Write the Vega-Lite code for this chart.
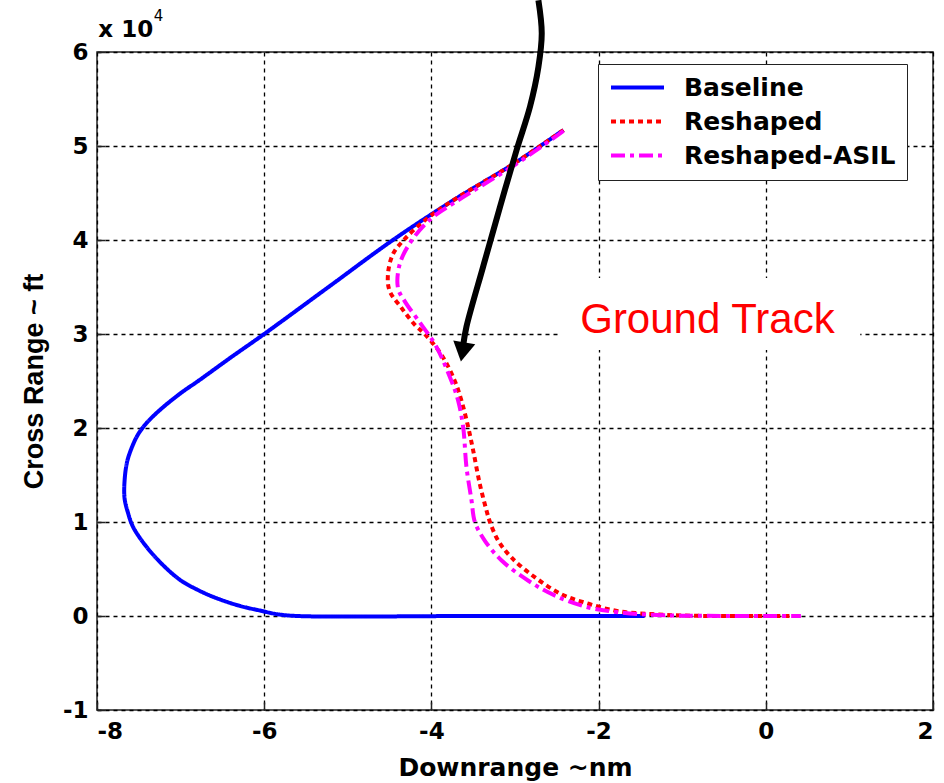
{
  "$schema": "https://vega.github.io/schema/vega-lite/v6.json",
  "autosize": {"type": "none"},
  "width": 836,
  "height": 658,
  "padding": {"left": 97, "top": 52, "right": 11, "bottom": 73},
  "background": "white",
  "config": {
    "view": {"stroke": "#222", "strokeWidth": 1.5},
    "axis": {
      "grid": true,
      "gridColor": "#000",
      "gridDash": [4, 4],
      "gridWidth": 1.3,
      "gridOpacity": 1,
      "domain": false,
      "ticks": true,
      "tickColor": "#222",
      "tickSize": -8,
      "tickWidth": 1.5,
      "labelFont": "DejaVu Sans",
      "labelFontWeight": "bold",
      "labelFontSize": 23,
      "labelColor": "#000",
      "titleFont": "DejaVu Sans",
      "titleFontWeight": "bold",
      "titleFontSize": 25,
      "titleColor": "#000"
    },
    "legend": {
      "orient": "none",
      "legendX": 501,
      "legendY": 12,
      "strokeColor": "#222",
      "fillColor": "white",
      "padding": 11,
      "labelFont": "DejaVu Sans",
      "labelFontWeight": "bold",
      "labelFontSize": 25,
      "labelColor": "#000",
      "labelOffset": 18,
      "labelLimit": 400,
      "symbolType": "stroke",
      "symbolStrokeWidth": 4,
      "symbolSize": 2809,
      "clipHeight": 25,
      "rowPadding": 8,
      "title": null
    }
  },
  "datasets": {
    "tracks": [
      {"s": "Baseline", "i": 1, "x": -2.42, "y": 51700},
      {"s": "Baseline", "i": 2, "x": -3.0, "y": 48200},
      {"s": "Baseline", "i": 3, "x": -3.76, "y": 44100},
      {"s": "Baseline", "i": 4, "x": -4.46, "y": 40000},
      {"s": "Baseline", "i": 5, "x": -5.2, "y": 35200},
      {"s": "Baseline", "i": 6, "x": -6.0, "y": 30000},
      {"s": "Baseline", "i": 7, "x": -6.4, "y": 27500},
      {"s": "Baseline", "i": 8, "x": -6.79, "y": 25000},
      {"s": "Baseline", "i": 9, "x": -7.0, "y": 23700},
      {"s": "Baseline", "i": 10, "x": -7.25, "y": 21900},
      {"s": "Baseline", "i": 11, "x": -7.41, "y": 20500},
      {"s": "Baseline", "i": 12, "x": -7.51, "y": 19300},
      {"s": "Baseline", "i": 13, "x": -7.58, "y": 18000},
      {"s": "Baseline", "i": 14, "x": -7.64, "y": 16400},
      {"s": "Baseline", "i": 15, "x": -7.67, "y": 14400},
      {"s": "Baseline", "i": 16, "x": -7.67, "y": 12500},
      {"s": "Baseline", "i": 17, "x": -7.63, "y": 11000},
      {"s": "Baseline", "i": 18, "x": -7.57, "y": 9500},
      {"s": "Baseline", "i": 19, "x": -7.42, "y": 7500},
      {"s": "Baseline", "i": 20, "x": -7.22, "y": 5500},
      {"s": "Baseline", "i": 21, "x": -7.0, "y": 3800},
      {"s": "Baseline", "i": 22, "x": -6.8, "y": 2800},
      {"s": "Baseline", "i": 23, "x": -6.6, "y": 2000},
      {"s": "Baseline", "i": 24, "x": -6.3, "y": 1100},
      {"s": "Baseline", "i": 25, "x": -6.04, "y": 560},
      {"s": "Baseline", "i": 26, "x": -5.85, "y": 200},
      {"s": "Baseline", "i": 27, "x": -5.6, "y": 0},
      {"s": "Baseline", "i": 28, "x": -3.5, "y": 0},
      {"s": "Baseline", "i": 29, "x": -1.45, "y": 0},

      {"s": "Reshaped", "i": 1, "x": -2.42, "y": 51700},
      {"s": "Reshaped", "i": 2, "x": -3.0, "y": 48200},
      {"s": "Reshaped", "i": 3, "x": -3.76, "y": 44100},
      {"s": "Reshaped", "i": 4, "x": -4.05, "y": 42300},
      {"s": "Reshaped", "i": 5, "x": -4.32, "y": 40100},
      {"s": "Reshaped", "i": 6, "x": -4.46, "y": 38500},
      {"s": "Reshaped", "i": 7, "x": -4.52, "y": 36300},
      {"s": "Reshaped", "i": 8, "x": -4.5, "y": 34600},
      {"s": "Reshaped", "i": 9, "x": -4.36, "y": 32800},
      {"s": "Reshaped", "i": 10, "x": -4.2, "y": 31000},
      {"s": "Reshaped", "i": 11, "x": -4.08, "y": 30000},
      {"s": "Reshaped", "i": 12, "x": -3.88, "y": 27800},
      {"s": "Reshaped", "i": 13, "x": -3.72, "y": 25000},
      {"s": "Reshaped", "i": 14, "x": -3.64, "y": 22900},
      {"s": "Reshaped", "i": 15, "x": -3.56, "y": 20100},
      {"s": "Reshaped", "i": 16, "x": -3.5, "y": 17600},
      {"s": "Reshaped", "i": 17, "x": -3.42, "y": 14000},
      {"s": "Reshaped", "i": 18, "x": -3.34, "y": 11200},
      {"s": "Reshaped", "i": 19, "x": -3.3, "y": 10000},
      {"s": "Reshaped", "i": 20, "x": -3.2, "y": 8000},
      {"s": "Reshaped", "i": 21, "x": -3.04, "y": 6200},
      {"s": "Reshaped", "i": 22, "x": -2.76, "y": 4100},
      {"s": "Reshaped", "i": 23, "x": -2.44, "y": 2300},
      {"s": "Reshaped", "i": 24, "x": -2.12, "y": 1300},
      {"s": "Reshaped", "i": 25, "x": -1.76, "y": 500},
      {"s": "Reshaped", "i": 26, "x": -1.36, "y": 200},
      {"s": "Reshaped", "i": 27, "x": -1.0, "y": 50},
      {"s": "Reshaped", "i": 28, "x": -0.5, "y": 0},
      {"s": "Reshaped", "i": 29, "x": 0.42, "y": 0},

      {"s": "Reshaped-ASIL", "i": 1, "x": -2.42, "y": 51600},
      {"s": "Reshaped-ASIL", "i": 2, "x": -3.0, "y": 48000},
      {"s": "Reshaped-ASIL", "i": 3, "x": -3.72, "y": 44000},
      {"s": "Reshaped-ASIL", "i": 4, "x": -4.0, "y": 42300},
      {"s": "Reshaped-ASIL", "i": 5, "x": -4.24, "y": 39900},
      {"s": "Reshaped-ASIL", "i": 6, "x": -4.38, "y": 37400},
      {"s": "Reshaped-ASIL", "i": 7, "x": -4.4, "y": 34900},
      {"s": "Reshaped-ASIL", "i": 8, "x": -4.32, "y": 33500},
      {"s": "Reshaped-ASIL", "i": 9, "x": -4.12, "y": 31000},
      {"s": "Reshaped-ASIL", "i": 10, "x": -3.95, "y": 28800},
      {"s": "Reshaped-ASIL", "i": 11, "x": -3.76, "y": 25000},
      {"s": "Reshaped-ASIL", "i": 12, "x": -3.68, "y": 22900},
      {"s": "Reshaped-ASIL", "i": 13, "x": -3.62, "y": 20100},
      {"s": "Reshaped-ASIL", "i": 14, "x": -3.58, "y": 15800},
      {"s": "Reshaped-ASIL", "i": 15, "x": -3.52, "y": 12300},
      {"s": "Reshaped-ASIL", "i": 16, "x": -3.48, "y": 10000},
      {"s": "Reshaped-ASIL", "i": 17, "x": -3.36, "y": 8000},
      {"s": "Reshaped-ASIL", "i": 18, "x": -3.16, "y": 5900},
      {"s": "Reshaped-ASIL", "i": 19, "x": -2.84, "y": 3750},
      {"s": "Reshaped-ASIL", "i": 20, "x": -2.52, "y": 2160},
      {"s": "Reshaped-ASIL", "i": 21, "x": -2.12, "y": 900},
      {"s": "Reshaped-ASIL", "i": 22, "x": -1.76, "y": 400},
      {"s": "Reshaped-ASIL", "i": 23, "x": -1.3, "y": 100},
      {"s": "Reshaped-ASIL", "i": 24, "x": -0.8, "y": 20},
      {"s": "Reshaped-ASIL", "i": 25, "x": 0.42, "y": 0}
    ],
    "arrow": [
      {"i": 1, "x": -2.72, "y": 65500},
      {"i": 2, "x": -2.68, "y": 62000},
      {"i": 3, "x": -2.72, "y": 58400},
      {"i": 4, "x": -2.82, "y": 54200},
      {"i": 5, "x": -2.98, "y": 49600},
      {"i": 6, "x": -3.18, "y": 43500},
      {"i": 7, "x": -3.38, "y": 37200},
      {"i": 8, "x": -3.58, "y": 30800},
      {"i": 9, "x": -3.62, "y": 28800}
    ],
    "head": [{"x": -3.627, "y": 28100}],
    "box": [{"x": -2.46, "xe": 1.13, "y": 35960, "ye": 28300}],
    "label": [{"x": -2.22, "y": 30110, "t": "Ground Track"}],
    "exp": [
      {"x": -7.984, "y": 61560, "t": "x 10"}
    ],
    "exp4": [
      {"x": -7.32, "y": 63300, "t": "4"}
    ]
  },
  "layer": [
    {
      "data": {"name": "tracks"},
      "mark": {"type": "line", "strokeWidth": 4, "strokeCap": "butt", "interpolate": "catmull-rom"},
      "encoding": {
        "x": {
          "field": "x", "type": "quantitative",
          "scale": {"domain": [-8, 2], "nice": false, "zero": false},
          "axis": {"title": "Downrange ~nm", "values": [-8, -6, -4, -2, 0, 2], "labelExpr": "toString(datum.value)", "labelPadding": 18, "titlePadding": 12}
        },
        "y": {
          "field": "y", "type": "quantitative",
          "scale": {"domain": [-10000, 60000], "nice": false, "zero": false},
          "axis": {"title": "Cross Range ~ ft", "titleFont": "Liberation Sans", "titleFontSize": 27, "values": [-10000, 0, 10000, 20000, 30000, 40000, 50000, 60000], "labelExpr": "toString(datum.value / 10000)", "labelPadding": 17, "titlePadding": 14}
        },
        "color": {
          "field": "s", "type": "nominal",
          "scale": {"domain": ["Baseline", "Reshaped", "Reshaped-ASIL"], "range": ["#0000ff", "#ff0000", "#ff00ff"]}
        },
        "strokeDash": {
          "field": "s", "type": "nominal",
          "scale": {"domain": ["Baseline", "Reshaped", "Reshaped-ASIL"], "range": [[1, 0], [5, 4], [14, 5, 4, 5]]}
        },
        "order": {"field": "i", "type": "quantitative"}
      }
    },
    {
      "data": {"name": "box"},
      "mark": {"type": "rect", "fill": "white", "stroke": null},
      "encoding": {
        "x": {"field": "x", "type": "quantitative"},
        "x2": {"field": "xe"},
        "y": {"field": "y", "type": "quantitative"},
        "y2": {"field": "ye"}
      }
    },
    {
      "data": {"name": "label"},
      "mark": {"type": "text", "font": "Liberation Sans", "fontSize": 42, "color": "#ff0000", "align": "left", "baseline": "alphabetic"},
      "encoding": {
        "x": {"field": "x", "type": "quantitative"},
        "y": {"field": "y", "type": "quantitative"},
        "text": {"field": "t"}
      }
    },
    {
      "data": {"name": "arrow"},
      "mark": {"type": "line", "color": "#000", "strokeWidth": 6, "clip": false, "strokeCap": "butt", "interpolate": "catmull-rom"},
      "encoding": {
        "x": {"field": "x", "type": "quantitative"},
        "y": {"field": "y", "type": "quantitative"},
        "order": {"field": "i", "type": "quantitative"}
      }
    },
    {
      "data": {"name": "head"},
      "mark": {"type": "point", "shape": "triangle-down", "filled": true, "color": "#000", "opacity": 1, "size": 500, "angle": 10},
      "encoding": {
        "x": {"field": "x", "type": "quantitative"},
        "y": {"field": "y", "type": "quantitative"}
      }
    },
    {
      "data": {"name": "exp"},
      "mark": {"type": "text", "font": "DejaVu Sans", "fontWeight": "bold", "fontSize": 23, "color": "#000", "align": "left", "baseline": "alphabetic", "clip": false},
      "encoding": {
        "x": {"field": "x", "type": "quantitative"},
        "y": {"field": "y", "type": "quantitative"},
        "text": {"field": "t"}
      }
    },
    {
      "data": {"name": "exp4"},
      "mark": {"type": "text", "font": "DejaVu Sans", "fontSize": 15, "color": "#000", "align": "left", "baseline": "alphabetic", "clip": false},
      "encoding": {
        "x": {"field": "x", "type": "quantitative"},
        "y": {"field": "y", "type": "quantitative"},
        "text": {"field": "t"}
      }
    }
  ]
}
